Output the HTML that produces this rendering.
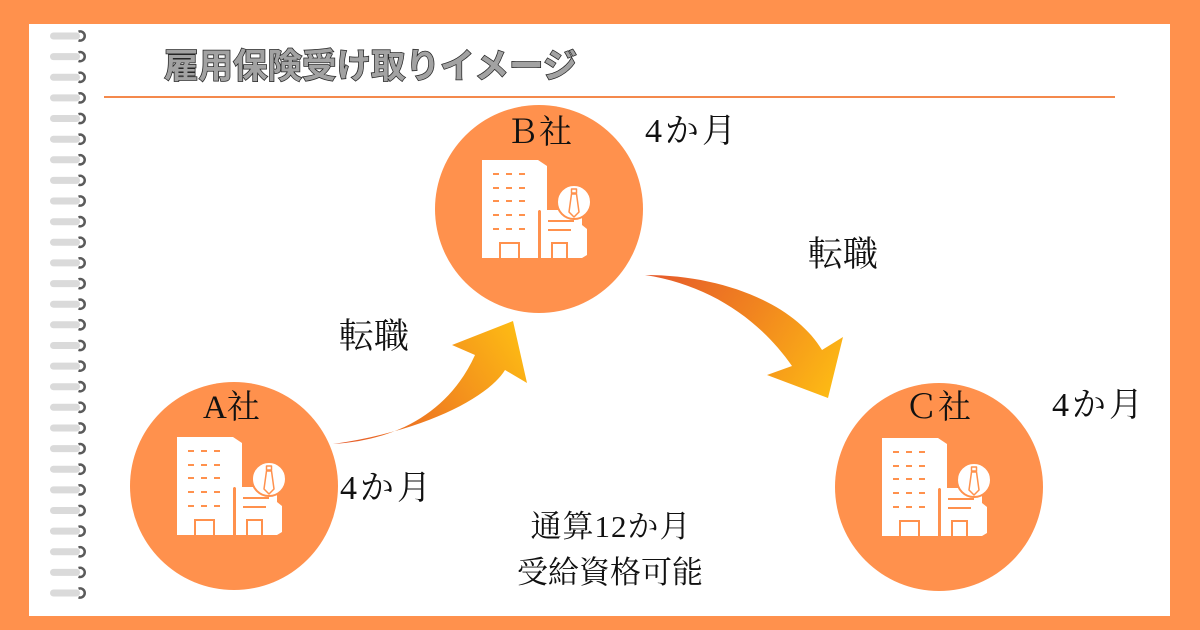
<!DOCTYPE html>
<html>
<head>
<meta charset="utf-8">
<style>
html,body{margin:0;padding:0;background:#FF914D;}
body{width:1200px;height:630px;overflow:hidden;}
svg{display:block;}
.serif{font-family:"Liberation Serif","Noto Serif CJK SC",serif;fill:#111;}
.title{font-family:"Liberation Sans","Noto Sans CJK JP",sans-serif;font-weight:bold;}
</style>
</head>
<body>
<svg width="1200" height="630" viewBox="0 0 1200 630" xmlns="http://www.w3.org/2000/svg">
  <defs>
    <linearGradient id="g1" gradientUnits="userSpaceOnUse" x1="333" y1="444" x2="515" y2="328">
      <stop offset="0" stop-color="#E5582B"/>
      <stop offset="0.5" stop-color="#F1841F"/>
      <stop offset="1" stop-color="#FDBA14"/>
    </linearGradient>
    <linearGradient id="g2" gradientUnits="userSpaceOnUse" x1="645" y1="275" x2="832" y2="392">
      <stop offset="0" stop-color="#E5582B"/>
      <stop offset="0.5" stop-color="#F1841F"/>
      <stop offset="1" stop-color="#FDBA14"/>
    </linearGradient>
  </defs>

  <!-- frame -->
  <rect x="0" y="0" width="1200" height="630" fill="#FF914D"/>
  <rect x="29" y="24" width="1141" height="592" fill="#FFFFFF"/>

  <!-- rings -->
  <g id="rings">
    <g transform="translate(0,36)"><rect x="50" y="-3.5" width="30" height="7" rx="3.5" fill="#DADADA"/><path d="M78.5,-4.3 A4.6,4.6 0 1 1 78.5,4.3" fill="none" stroke="#5A5A5A" stroke-width="2.5"/></g>
    <g transform="translate(0,56.6)"><rect x="50" y="-3.5" width="30" height="7" rx="3.5" fill="#DADADA"/><path d="M78.5,-4.3 A4.6,4.6 0 1 1 78.5,4.3" fill="none" stroke="#5A5A5A" stroke-width="2.5"/></g>
    <g transform="translate(0,77.3)"><rect x="50" y="-3.5" width="30" height="7" rx="3.5" fill="#DADADA"/><path d="M78.5,-4.3 A4.6,4.6 0 1 1 78.5,4.3" fill="none" stroke="#5A5A5A" stroke-width="2.5"/></g>
    <g transform="translate(0,97.9)"><rect x="50" y="-3.5" width="30" height="7" rx="3.5" fill="#DADADA"/><path d="M78.5,-4.3 A4.6,4.6 0 1 1 78.5,4.3" fill="none" stroke="#5A5A5A" stroke-width="2.5"/></g>
    <g transform="translate(0,118.5)"><rect x="50" y="-3.5" width="30" height="7" rx="3.5" fill="#DADADA"/><path d="M78.5,-4.3 A4.6,4.6 0 1 1 78.5,4.3" fill="none" stroke="#5A5A5A" stroke-width="2.5"/></g>
    <g transform="translate(0,139.2)"><rect x="50" y="-3.5" width="30" height="7" rx="3.5" fill="#DADADA"/><path d="M78.5,-4.3 A4.6,4.6 0 1 1 78.5,4.3" fill="none" stroke="#5A5A5A" stroke-width="2.5"/></g>
    <g transform="translate(0,159.8)"><rect x="50" y="-3.5" width="30" height="7" rx="3.5" fill="#DADADA"/><path d="M78.5,-4.3 A4.6,4.6 0 1 1 78.5,4.3" fill="none" stroke="#5A5A5A" stroke-width="2.5"/></g>
    <g transform="translate(0,180.4)"><rect x="50" y="-3.5" width="30" height="7" rx="3.5" fill="#DADADA"/><path d="M78.5,-4.3 A4.6,4.6 0 1 1 78.5,4.3" fill="none" stroke="#5A5A5A" stroke-width="2.5"/></g>
    <g transform="translate(0,201.0)"><rect x="50" y="-3.5" width="30" height="7" rx="3.5" fill="#DADADA"/><path d="M78.5,-4.3 A4.6,4.6 0 1 1 78.5,4.3" fill="none" stroke="#5A5A5A" stroke-width="2.5"/></g>
    <g transform="translate(0,221.7)"><rect x="50" y="-3.5" width="30" height="7" rx="3.5" fill="#DADADA"/><path d="M78.5,-4.3 A4.6,4.6 0 1 1 78.5,4.3" fill="none" stroke="#5A5A5A" stroke-width="2.5"/></g>
    <g transform="translate(0,242.3)"><rect x="50" y="-3.5" width="30" height="7" rx="3.5" fill="#DADADA"/><path d="M78.5,-4.3 A4.6,4.6 0 1 1 78.5,4.3" fill="none" stroke="#5A5A5A" stroke-width="2.5"/></g>
    <g transform="translate(0,262.9)"><rect x="50" y="-3.5" width="30" height="7" rx="3.5" fill="#DADADA"/><path d="M78.5,-4.3 A4.6,4.6 0 1 1 78.5,4.3" fill="none" stroke="#5A5A5A" stroke-width="2.5"/></g>
    <g transform="translate(0,283.6)"><rect x="50" y="-3.5" width="30" height="7" rx="3.5" fill="#DADADA"/><path d="M78.5,-4.3 A4.6,4.6 0 1 1 78.5,4.3" fill="none" stroke="#5A5A5A" stroke-width="2.5"/></g>
    <g transform="translate(0,304.2)"><rect x="50" y="-3.5" width="30" height="7" rx="3.5" fill="#DADADA"/><path d="M78.5,-4.3 A4.6,4.6 0 1 1 78.5,4.3" fill="none" stroke="#5A5A5A" stroke-width="2.5"/></g>
    <g transform="translate(0,324.8)"><rect x="50" y="-3.5" width="30" height="7" rx="3.5" fill="#DADADA"/><path d="M78.5,-4.3 A4.6,4.6 0 1 1 78.5,4.3" fill="none" stroke="#5A5A5A" stroke-width="2.5"/></g>
    <g transform="translate(0,345.5)"><rect x="50" y="-3.5" width="30" height="7" rx="3.5" fill="#DADADA"/><path d="M78.5,-4.3 A4.6,4.6 0 1 1 78.5,4.3" fill="none" stroke="#5A5A5A" stroke-width="2.5"/></g>
    <g transform="translate(0,366.1)"><rect x="50" y="-3.5" width="30" height="7" rx="3.5" fill="#DADADA"/><path d="M78.5,-4.3 A4.6,4.6 0 1 1 78.5,4.3" fill="none" stroke="#5A5A5A" stroke-width="2.5"/></g>
    <g transform="translate(0,386.7)"><rect x="50" y="-3.5" width="30" height="7" rx="3.5" fill="#DADADA"/><path d="M78.5,-4.3 A4.6,4.6 0 1 1 78.5,4.3" fill="none" stroke="#5A5A5A" stroke-width="2.5"/></g>
    <g transform="translate(0,407.3)"><rect x="50" y="-3.5" width="30" height="7" rx="3.5" fill="#DADADA"/><path d="M78.5,-4.3 A4.6,4.6 0 1 1 78.5,4.3" fill="none" stroke="#5A5A5A" stroke-width="2.5"/></g>
    <g transform="translate(0,428.0)"><rect x="50" y="-3.5" width="30" height="7" rx="3.5" fill="#DADADA"/><path d="M78.5,-4.3 A4.6,4.6 0 1 1 78.5,4.3" fill="none" stroke="#5A5A5A" stroke-width="2.5"/></g>
    <g transform="translate(0,448.6)"><rect x="50" y="-3.5" width="30" height="7" rx="3.5" fill="#DADADA"/><path d="M78.5,-4.3 A4.6,4.6 0 1 1 78.5,4.3" fill="none" stroke="#5A5A5A" stroke-width="2.5"/></g>
    <g transform="translate(0,469.2)"><rect x="50" y="-3.5" width="30" height="7" rx="3.5" fill="#DADADA"/><path d="M78.5,-4.3 A4.6,4.6 0 1 1 78.5,4.3" fill="none" stroke="#5A5A5A" stroke-width="2.5"/></g>
    <g transform="translate(0,489.9)"><rect x="50" y="-3.5" width="30" height="7" rx="3.5" fill="#DADADA"/><path d="M78.5,-4.3 A4.6,4.6 0 1 1 78.5,4.3" fill="none" stroke="#5A5A5A" stroke-width="2.5"/></g>
    <g transform="translate(0,510.5)"><rect x="50" y="-3.5" width="30" height="7" rx="3.5" fill="#DADADA"/><path d="M78.5,-4.3 A4.6,4.6 0 1 1 78.5,4.3" fill="none" stroke="#5A5A5A" stroke-width="2.5"/></g>
    <g transform="translate(0,531.1)"><rect x="50" y="-3.5" width="30" height="7" rx="3.5" fill="#DADADA"/><path d="M78.5,-4.3 A4.6,4.6 0 1 1 78.5,4.3" fill="none" stroke="#5A5A5A" stroke-width="2.5"/></g>
    <g transform="translate(0,551.8)"><rect x="50" y="-3.5" width="30" height="7" rx="3.5" fill="#DADADA"/><path d="M78.5,-4.3 A4.6,4.6 0 1 1 78.5,4.3" fill="none" stroke="#5A5A5A" stroke-width="2.5"/></g>
    <g transform="translate(0,572.4)"><rect x="50" y="-3.5" width="30" height="7" rx="3.5" fill="#DADADA"/><path d="M78.5,-4.3 A4.6,4.6 0 1 1 78.5,4.3" fill="none" stroke="#5A5A5A" stroke-width="2.5"/></g>
    <g transform="translate(0,593.0)"><rect x="50" y="-3.5" width="30" height="7" rx="3.5" fill="#DADADA"/><path d="M78.5,-4.3 A4.6,4.6 0 1 1 78.5,4.3" fill="none" stroke="#5A5A5A" stroke-width="2.5"/></g>
  </g>

  <!-- title -->
  <text x="164" y="78" class="title" font-size="34.5" fill="#A2A2A2" stroke="#262626" stroke-width="1.5" paint-order="stroke">雇用保険受け取りイメージ</text>
  <line x1="104" y1="97" x2="1115" y2="97" stroke="#F4894C" stroke-width="2"/>

  <!-- arrows -->
  <path d="M333,444 C400,440 450,410 475,355 L452,345 L513,321 L527,383 L505,370 C490,395 430,430 333,444 Z" fill="url(#g1)"/>
  <path d="M645,275 C725,275 795,305 822,350 L843,337 L828,398 L767,375 L792,366 C760,320 710,285 645,275 Z" fill="url(#g2)"/>

  <!-- circles -->
  <circle cx="539" cy="209" r="104" fill="#FF914D"/>
  <circle cx="234" cy="486" r="104" fill="#FF914D"/>
  <circle cx="939" cy="487" r="104" fill="#FF914D"/>

  <!-- building icon B -->
  <g transform="translate(539,209)">
    <g fill="#FFFFFF">
      <rect x="-57" y="-49" width="56" height="98"/>
      <polygon points="-1,-49 8,-43 8,2 -1,2"/>
      <rect x="2" y="1" width="41" height="48"/>
      <polygon points="43,16 48,20 48,46 43,49"/>
    </g>
    <line x1="0.5" y1="1" x2="0.5" y2="49" stroke="#FF914D" stroke-width="2"/>
    <g fill="#FF914D">
      <rect x="-46" y="-36" width="6" height="2"/><rect x="-33" y="-36" width="6" height="2"/><rect x="-20" y="-36" width="6" height="2"/>
      <rect x="-46" y="-22" width="6" height="2"/><rect x="-33" y="-22" width="6" height="2"/><rect x="-20" y="-22" width="6" height="2"/>
      <rect x="-46" y="-9" width="6" height="2"/><rect x="-33" y="-9" width="6" height="2"/><rect x="-20" y="-9" width="6" height="2"/>
      <rect x="-46" y="5" width="6" height="2"/><rect x="-33" y="5" width="6" height="2"/><rect x="-20" y="5" width="6" height="2"/>
      <rect x="-46" y="19" width="6" height="2"/><rect x="-33" y="19" width="6" height="2"/><rect x="-20" y="19" width="6" height="2"/>
      <rect x="9" y="11" width="26" height="2"/>
      <rect x="9" y="20" width="23" height="2"/>
    </g>
    <path d="M-39,49 V34 H-20 V49 M13,49 V34 H28 V49" fill="none" stroke="#FF914D" stroke-width="2"/>
    <circle cx="35" cy="-7" r="17" fill="#FFFFFF" stroke="#FF914D" stroke-width="2"/>
    <g fill="none" stroke="#FF914D" stroke-width="1.5" stroke-linejoin="round">
      <rect x="32.5" y="-20" width="5" height="4"/>
      <path d="M32.5,-15 L37.5,-15 L40,3 L35,8 L30,3 Z"/>
    </g>
  </g>

  <!-- building icon A -->
  <g transform="translate(234,486)">
    <g fill="#FFFFFF">
      <rect x="-57" y="-49" width="56" height="98"/>
      <polygon points="-1,-49 8,-43 8,2 -1,2"/>
      <rect x="2" y="1" width="41" height="48"/>
      <polygon points="43,16 48,20 48,46 43,49"/>
    </g>
    <line x1="0.5" y1="1" x2="0.5" y2="49" stroke="#FF914D" stroke-width="2"/>
    <g fill="#FF914D">
      <rect x="-46" y="-36" width="6" height="2"/><rect x="-33" y="-36" width="6" height="2"/><rect x="-20" y="-36" width="6" height="2"/>
      <rect x="-46" y="-22" width="6" height="2"/><rect x="-33" y="-22" width="6" height="2"/><rect x="-20" y="-22" width="6" height="2"/>
      <rect x="-46" y="-9" width="6" height="2"/><rect x="-33" y="-9" width="6" height="2"/><rect x="-20" y="-9" width="6" height="2"/>
      <rect x="-46" y="5" width="6" height="2"/><rect x="-33" y="5" width="6" height="2"/><rect x="-20" y="5" width="6" height="2"/>
      <rect x="-46" y="19" width="6" height="2"/><rect x="-33" y="19" width="6" height="2"/><rect x="-20" y="19" width="6" height="2"/>
      <rect x="9" y="11" width="26" height="2"/>
      <rect x="9" y="20" width="23" height="2"/>
    </g>
    <path d="M-39,49 V34 H-20 V49 M13,49 V34 H28 V49" fill="none" stroke="#FF914D" stroke-width="2"/>
    <circle cx="35" cy="-7" r="17" fill="#FFFFFF" stroke="#FF914D" stroke-width="2"/>
    <g fill="none" stroke="#FF914D" stroke-width="1.5" stroke-linejoin="round">
      <rect x="32.5" y="-20" width="5" height="4"/>
      <path d="M32.5,-15 L37.5,-15 L40,3 L35,8 L30,3 Z"/>
    </g>
  </g>

  <!-- building icon C -->
  <g transform="translate(939,487)">
    <g fill="#FFFFFF">
      <rect x="-57" y="-49" width="56" height="98"/>
      <polygon points="-1,-49 8,-43 8,2 -1,2"/>
      <rect x="2" y="1" width="41" height="48"/>
      <polygon points="43,16 48,20 48,46 43,49"/>
    </g>
    <line x1="0.5" y1="1" x2="0.5" y2="49" stroke="#FF914D" stroke-width="2"/>
    <g fill="#FF914D">
      <rect x="-46" y="-36" width="6" height="2"/><rect x="-33" y="-36" width="6" height="2"/><rect x="-20" y="-36" width="6" height="2"/>
      <rect x="-46" y="-22" width="6" height="2"/><rect x="-33" y="-22" width="6" height="2"/><rect x="-20" y="-22" width="6" height="2"/>
      <rect x="-46" y="-9" width="6" height="2"/><rect x="-33" y="-9" width="6" height="2"/><rect x="-20" y="-9" width="6" height="2"/>
      <rect x="-46" y="5" width="6" height="2"/><rect x="-33" y="5" width="6" height="2"/><rect x="-20" y="5" width="6" height="2"/>
      <rect x="-46" y="19" width="6" height="2"/><rect x="-33" y="19" width="6" height="2"/><rect x="-20" y="19" width="6" height="2"/>
      <rect x="9" y="11" width="26" height="2"/>
      <rect x="9" y="20" width="23" height="2"/>
    </g>
    <path d="M-39,49 V34 H-20 V49 M13,49 V34 H28 V49" fill="none" stroke="#FF914D" stroke-width="2"/>
    <circle cx="35" cy="-7" r="17" fill="#FFFFFF" stroke="#FF914D" stroke-width="2"/>
    <g fill="none" stroke="#FF914D" stroke-width="1.5" stroke-linejoin="round">
      <rect x="32.5" y="-20" width="5" height="4"/>
      <path d="M32.5,-15 L37.5,-15 L40,3 L35,8 L30,3 Z"/>
    </g>
  </g>

  <!-- labels -->
  <text x="506" y="143" class="serif" font-size="33">Ｂ社</text>
  <text x="645" y="142" class="serif" font-size="34" letter-spacing="3">4か月</text>
  <text x="339" y="348" class="serif" font-size="35">転職</text>
  <text x="808" y="266" class="serif" font-size="35">転職</text>
  <text x="203" y="418" class="serif" font-size="33">A社</text>
  <text x="340" y="499" class="serif" font-size="34" letter-spacing="3">4か月</text>
  <text x="905" y="418" class="serif" font-size="33">Ｃ社</text>
  <text x="1052" y="416" class="serif" font-size="34" letter-spacing="3">4か月</text>
  <text x="611" y="537" class="serif" font-size="31" text-anchor="middle" letter-spacing="1">通算12か月</text>
  <text x="610" y="583" class="serif" font-size="31" text-anchor="middle">受給資格可能</text>
</svg>
</body>
</html>
